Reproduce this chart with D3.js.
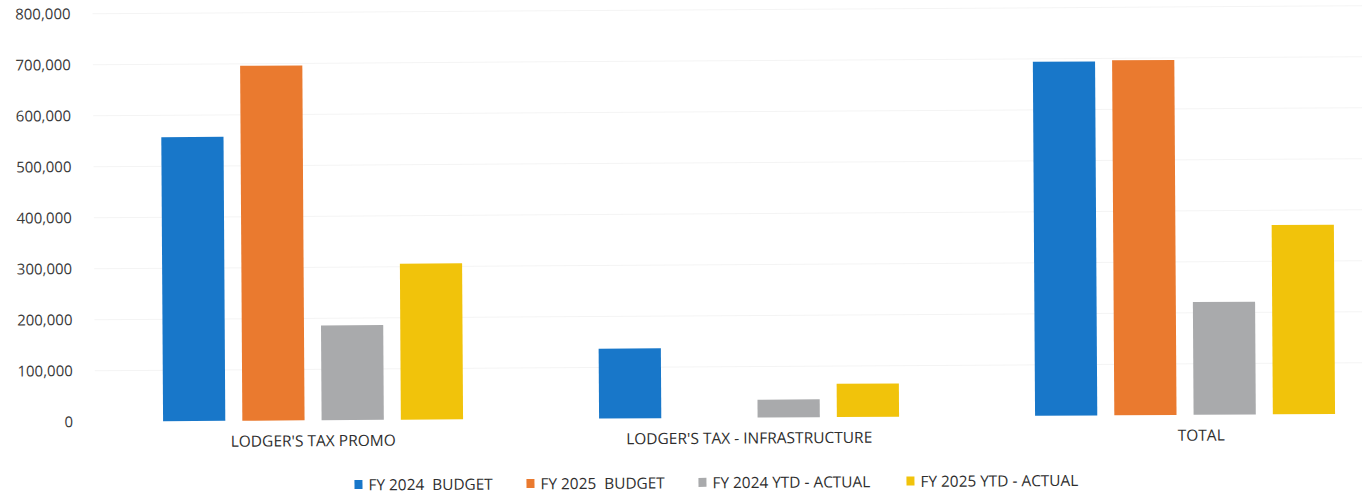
<!DOCTYPE html>
<html>
<head>
<meta charset="utf-8">
<script src="https://cdn.jsdelivr.net/npm/d3@7"></script>
<style>
  html, body { margin: 0; padding: 0; background: #ffffff; }
  svg { display: block; }
</style>
</head>
<body>
<svg id="chart" width="1362" height="496"></svg>
<script>
// Budget vs. year-to-date actuals for lodger's tax funds
const categories = ["LODGER'S TAX PROMO", "LODGER'S TAX - INFRASTRUCTURE", "TOTAL"];
const seriesNames = ["FY 2024  BUDGET", "FY 2025  BUDGET", "FY 2024 YTD - ACTUAL", "FY 2025 YTD - ACTUAL"];
const fy2024Budget = [557000, 137000, 694000];
const fy2025Budget = [696000, 0, 696000];
const fy2024Actual = [186000, 35000, 221000];
const fy2025Actual = [306000, 65000, 371000];
const yTicks = [0, 100000, 200000, 300000, 400000, 500000, 600000, 700000, 800000];
const seriesColors = ["#1877c9", "#ea7a2f", "#a9aaac", "#f1c30b"];

const seriesValues = [fy2024Budget, fy2025Budget, fy2024Actual, fy2025Actual];

const W = 1362, H = 496;
const FONT = "'Open Sans', sans-serif";
const svg = d3.select("#chart");
// the printed page sits at a slight tilt
const root = svg.append("g").attr("transform", `rotate(-0.36 ${W / 2} ${H / 2})`);

const plot = { left: 94, right: 1402, top: 10, bottom: 418 };

const x0 = d3.scaleBand().domain(categories).range([plot.left, plot.right]).paddingInner(0).paddingOuter(0);
const x1 = d3.scaleBand().domain(d3.range(seriesNames.length))
  .range([68, x0.bandwidth() - 68]).paddingInner(0.215).paddingOuter(0);
const y = d3.scaleLinear().domain([0, 800000]).range([plot.bottom, plot.top]);

// faint gridlines
root.append("g").selectAll("line").data(yTicks.slice(1)).join("line")
  .attr("x1", plot.left).attr("x2", plot.right)
  .attr("y1", d => y(d)).attr("y2", d => y(d))
  .attr("stroke", "#f4f4f4").attr("stroke-width", 1);

// y axis labels
const yAxis = d3.axisLeft(y).tickValues(yTicks).tickFormat(d3.format(",")).tickSize(0).tickPadding(0);
const yg = root.append("g").attr("transform", `translate(72,0)`).call(yAxis);
yg.select(".domain").remove();
yg.selectAll("text")
  .attr("font-family", FONT).attr("font-size", 15)
  .attr("fill", "#3a3a3a").attr("dy", "0.32em");

// bars
const groups = root.append("g").selectAll("g").data(categories).join("g")
  .attr("transform", d => `translate(${x0(d)},0)`);
groups.selectAll("rect")
  .data((c, ci) => seriesValues.map((vals, si) => ({ si, v: vals[ci] })))
  .join("rect")
  .filter(d => d.v > 0)
  .attr("x", d => x1(d.si))
  .attr("width", x1.bandwidth())
  .attr("y", d => y(d.v))
  .attr("height", d => y(0) - y(d.v))
  .attr("fill", d => seriesColors[d.si]);

// category axis labels (the last band runs past the page edge, so its label centres on the visible part)
const xAxis = d3.axisBottom(x0).tickSize(0).tickPadding(0);
const xg = root.append("g").attr("transform", `translate(0,${plot.bottom + 21})`).call(xAxis);
xg.select(".domain").remove();
xg.selectAll("text")
  .attr("font-family", FONT).attr("font-size", 15.5)
  .attr("fill", "#2e2e2e").attr("dy", "0.32em")
  .attr("dx", (d, i) => i === categories.length - 1 ? 16 : 0);

// legend
const legend = root.append("g").attr("transform", "translate(0,482)");
const legendX = [353, 525, 697, 905];
const items = legend.selectAll("g").data(seriesNames).join("g")
  .attr("transform", (d, i) => `translate(${legendX[i]},0)`);
items.append("rect").attr("x", 0).attr("y", -4).attr("width", 8).attr("height", 9)
  .attr("fill", (d, i) => seriesColors[i]);
items.append("text").attr("x", 14).attr("y", 1).attr("dy", "0.35em")
  .attr("font-family", FONT).attr("font-size", 15.4)
  .attr("fill", "#2e2e2e")
  .attr("xml:space", "preserve")
  .text(d => d);
</script>
</body>
</html>
